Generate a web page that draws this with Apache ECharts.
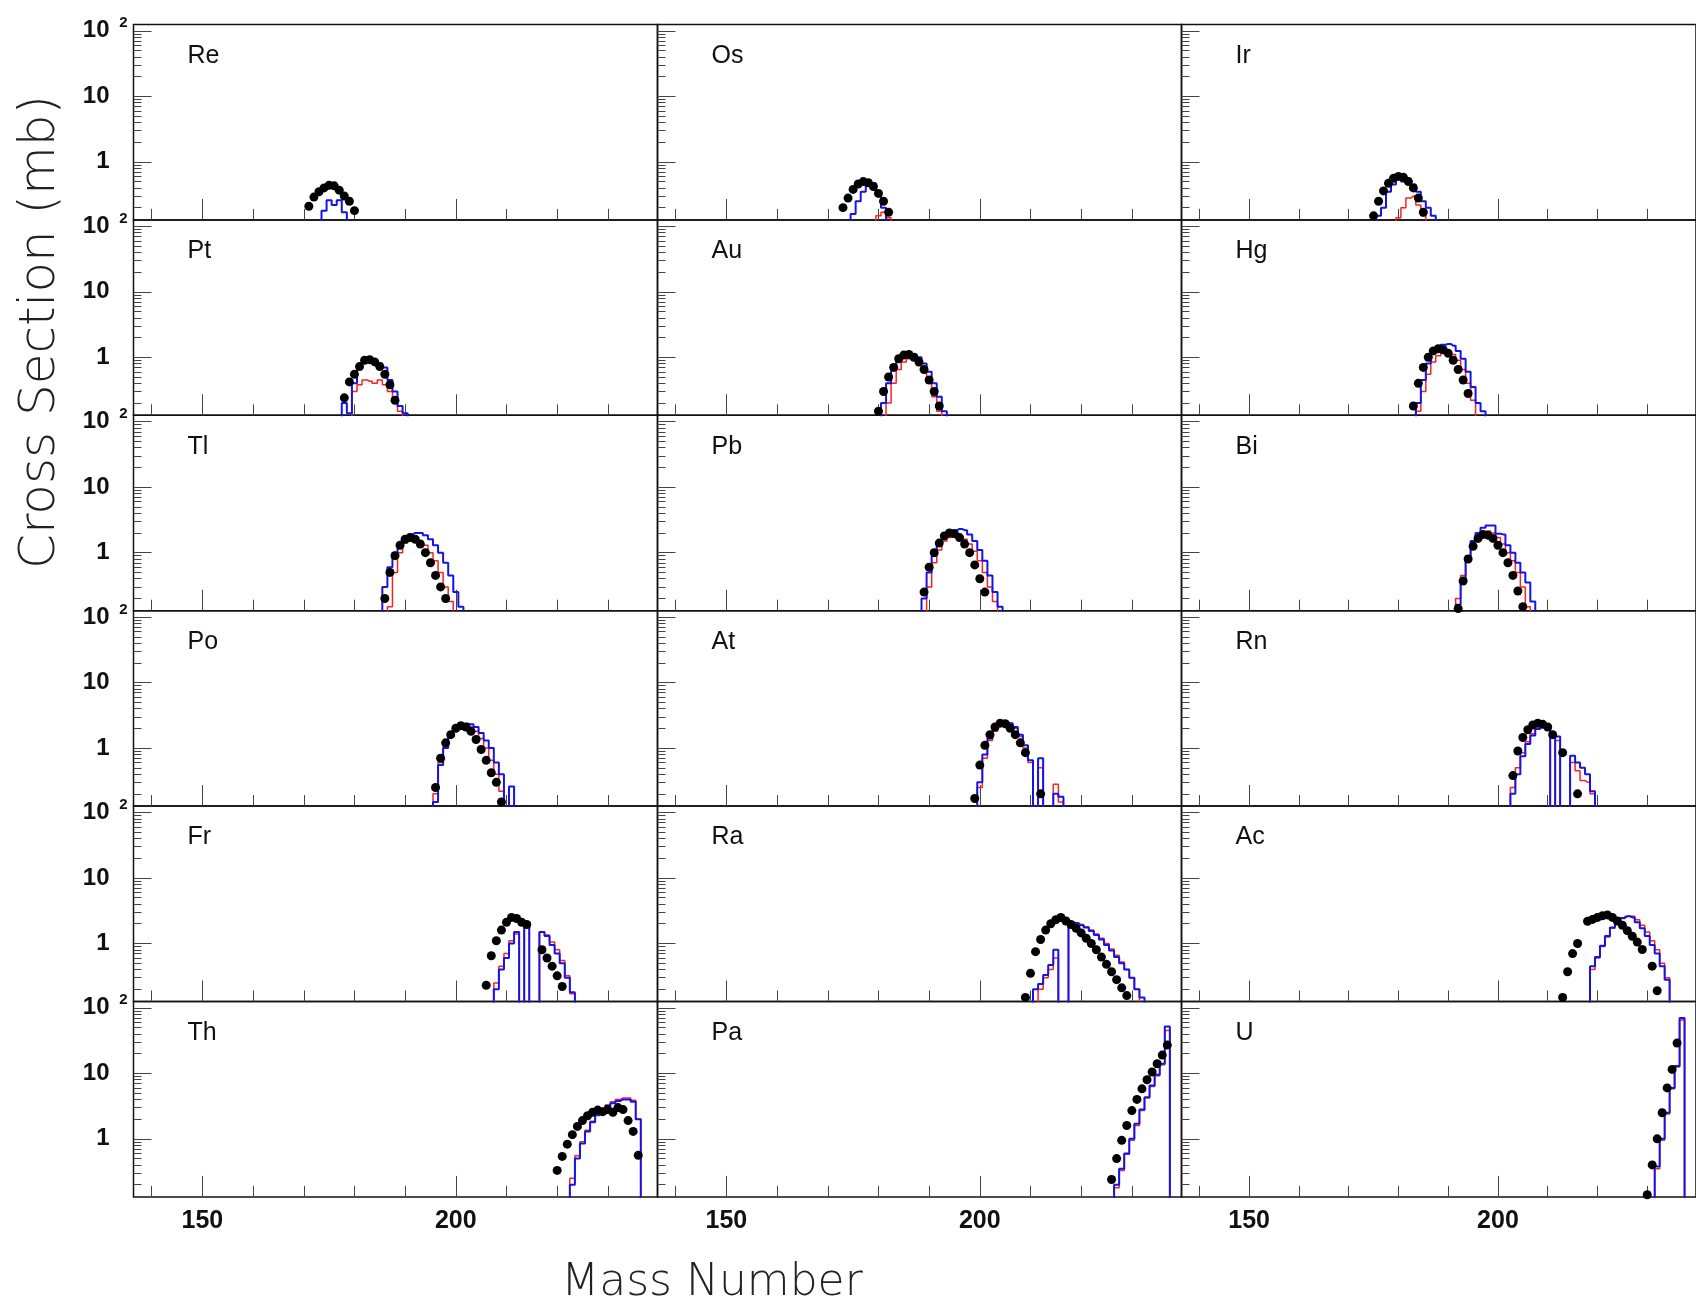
<!DOCTYPE html>
<html>
<head>
<meta charset="utf-8">
<script src="https://cdn.jsdelivr.net/npm/echarts@6/dist/echarts.min.js"></script>
<style>
html,body{margin:0;padding:0;background:#fff;overflow:hidden}
#chart{width:1696px;height:1308px}
</style>
</head>
<body>
<div id="chart"></div>
<script>
// ---------- DATA ----------
const elements = ['Re','Os','Ir','Pt','Au','Hg','Tl','Pb','Bi','Po','At','Rn','Fr','Ra','Ac','Th','Pa','U'];

const xTickLabels = [150, 200];
const xMinorTicks = [140, 160, 170, 180, 190, 210, 220, 230];
const yTickValues = [1, 10, 100];
const yTickLabels = ['1', '10', '10'];
const yMinorTicks = [0.2,0.3,0.4,0.5,0.6,0.7,0.8,0.9, 2,3,4,5,6,7,8,9, 20,30,40,50,60,70,80,90];

// experimental points (black dots): first mass number, then cross sections (mb); null = no point
const expStart = [171,173,175, 178,180,183, 186,189,192, 196,199,203, 206,209,213, 220,226,230];
const expValues = [
  [0.21,0.29,0.35,0.40,0.44,0.43,0.37,0.30,0.25,0.18],
  [0.20,0.28,0.38,0.46,0.50,0.48,0.42,0.33,0.25,0.17],
  [0.15,0.25,0.36,0.47,0.56,0.60,0.58,0.50,0.40,0.28,0.17],
  [0.24,0.42,0.55,0.72,0.90,0.92,0.85,0.72,0.55,0.38,0.22],
  [0.15,0.30,0.50,0.70,0.95,1.08,1.10,1.00,0.85,0.65,0.45,0.30,0.18],
  [0.18,0.40,0.70,1.00,1.25,1.35,1.30,1.15,0.90,0.65,0.45,0.28],
  [0.20,0.50,0.90,1.30,1.60,1.70,1.60,1.35,1.00,0.70,0.45,0.30,0.20],
  [0.25,0.60,1.00,1.40,1.80,2.00,1.95,1.70,1.35,1.00,0.65,0.40,0.25],
  [0.14,0.37,0.80,1.25,1.65,1.90,1.85,1.65,1.30,1.00,0.70,0.45,0.26,0.15],
  [0.25,0.70,1.20,1.60,2.00,2.20,2.10,1.80,1.35,0.95,0.65,0.42,0.30,0.15],
  [0.17,0.55,1.10,1.60,2.10,2.40,2.35,2.00,1.60,1.20,0.85,null,null,0.20],
  [0.38,0.90,1.45,1.90,2.25,2.40,2.30,2.10,1.60,null,0.85,null,null,0.20],
  [0.23,0.65,1.10,1.60,2.10,2.50,2.40,2.10,1.95,null,null,0.80,0.60,0.45,0.32,0.22],
  [0.15,0.35,0.75,1.15,1.60,2.00,2.30,2.50,2.20,1.95,1.70,1.45,1.20,1.00,0.80,0.62,0.48,0.37,0.28,0.21,0.16],
  [0.15,0.37,0.70,1.00,null,2.18,2.33,2.50,2.65,2.73,2.50,2.20,1.90,1.57,1.29,1.05,0.81,null,0.45,0.19],
  [0.33,0.54,0.83,1.16,1.55,1.90,2.25,2.55,2.75,2.60,2.80,2.55,3.00,2.80,1.90,1.30,0.56],
  [0.24,0.50,0.95,1.60,2.70,4.00,5.80,8.00,10.5,14.0,19.0,27.0],
  [0.14,0.40,1.00,2.50,6.00,11.5,29.0]
];

// model 1 (red histogram): first mass number, then cross sections (mb); 0 = empty bin
const redStart = [0,180,180, 180,182,184, 187,190,192, 196,200,203, 208,212,219, 223,227,232];
const redValues = [
  [],
  [0.15,0.17,0.14],
  [0.14,0.20,0.28,0.30,0.22,0.15],
  [0.30,0.38,0.45,0.43,0.40,0.45,0.38,0.30,0.22,0.15],
  [0.20,0.40,0.65,0.85,0.95,0.90,0.75,0.60,0.40,0.25,0.15],
  [0.15,0.30,0.55,0.85,1.05,1.20,1.20,1.10,0.90,0.65,0.40,0.22],
  [0.15,0.50,1.00,1.40,1.60,1.60,1.50,1.30,1.00,0.75,0.50,0.30,0.18],
  [0.30,0.70,1.10,1.50,1.70,1.80,1.75,1.60,1.35,1.05,0.75,0.50,0.30,0.18],
  [0.20,0.45,0.90,1.40,1.80,2.10,2.15,2.00,1.70,1.35,1.00,0.75,0.50,0.30,0.15],
  [0.20,0.60,1.10,1.55,1.90,2.20,2.20,2.10,1.80,1.40,1.00,0.65,0.40,0.22],
  [0.25,0.70,1.30,1.80,2.20,2.40,2.30,2.00,1.50,1.00,0.60,0,0.50,0,0,0.28,0.15],
  [0.25,0.50,0.85,1.25,1.65,2.00,2.25,2.10,0,1.30,0,0,0.60,0.45,0.32,0.30,0.20],
  [0.25,0.45,0.70,1.10,1.40,0,1.90,0,0,1.50,1.35,1.05,0.80,0.55,0.32,0.17],
  [0.20,0.30,0.40,0.60,0,0,2.00,2.05,1.95,1.80,1.60,1.40,1.20,1.00,0.82,0.66,0.52,0.40,0.30,0.20],
  [0.40,0.60,0.90,1.25,1.70,2.10,2.40,2.60,2.60,2.30,1.90,1.50,1.10,0.80,0.50,0.30],
  [0.25,0.55,0.90,1.35,1.85,2.40,2.90,3.30,3.70,4.00,4.20,4.20,3.90,2.00],
  [0.18,0.33,0.58,0.95,1.60,2.70,4.20,6.30,9.20,13.5,45.0],
  [0.35,0.95,2.40,5.80,12.5,65.0]
];

// model 2 (blue histogram)
const blueStart = [174,175,176, 178,181,184, 186,189,192, 196,200,203, 208,211,219, 223,227,232];
const blueValues = [
  [0.18,0.26,0.22,0.26,0.17],
  [0.16,0.25,0.35,0.45,0.47,0.35,0.20],
  [0.15,0.20,0.35,0.45,0.55,0.50,0.55,0.45,0.35,0.25,0.20,0.15],
  [0.20,0.14,0.40,0.70,0.85,0.88,0.88,0.80,0.70,0.45,0.30,0.18,0.14],
  [0.20,0.40,0.75,1.00,1.10,1.15,1.10,1.00,0.80,0.60,0.40,0.25,0.15],
  [0.20,0.45,0.80,1.15,1.40,1.55,1.60,1.50,1.25,0.95,0.60,0.35,0.20,0.15],
  [0.30,0.60,1.00,1.40,1.70,1.90,2.00,2.00,1.85,1.60,1.30,1.00,0.70,0.45,0.25,0.15],
  [0.20,0.50,0.90,1.30,1.70,2.00,2.20,2.30,2.20,1.90,1.50,1.10,0.75,0.45,0.25,0.15],
  [0.16,0.35,0.80,1.50,2.00,2.40,2.60,2.60,1.95,1.90,1.30,1.00,0.70,0.50,0.35,0.18],
  [0.15,0.55,1.00,1.50,1.90,2.25,2.35,2.30,2.10,1.70,1.30,1.00,0.60,0.40,0,0.26],
  [0.30,0.80,1.40,1.90,2.30,2.50,2.40,2.10,1.60,1.10,0.65,0,0.70,0,0,0.20,0.18],
  [0.20,0.40,0.75,1.15,1.55,1.95,2.30,2.20,0,1.50,0,0,0.76,0.60,0.50,0.40,0.22],
  [0.20,0.40,0.60,1.00,1.50,0,2.10,0,0,1.50,1.30,0.95,0.70,0.50,0.30,0.18],
  [0.20,0.24,0.33,0.47,0.80,0,0,2.10,2.05,1.90,1.75,1.55,1.35,1.15,0.95,0.78,0.62,0.50,0.40,0.30,0.20,0.15],
  [0.45,0.62,0.92,1.30,1.75,2.15,2.45,2.60,2.50,2.10,1.70,1.30,0.95,0.70,0.45,0.28],
  [0.20,0.50,0.85,1.30,1.80,2.30,2.80,3.20,3.50,3.80,4.00,4.00,3.70,2.00],
  [0.20,0.35,0.60,1.00,1.70,2.80,4.30,6.50,9.50,14.0,52.0],
  [0.38,1.00,2.50,6.00,13.0,70.0]
];

// ---------- LAYOUT ----------
const colLeft = [133.5, 657.5, 1181.5];
const colW = 524;
const rowTop0 = 24.5;
const rowH = 195.4;
const X_MIN = 136.4, X_MAX = 239.8;
const Y_MIN = 0.13, Y_MAX = 125;
const FLOOR = 1e-3; // empty bins drawn below the axis floor (log axis cannot show 0)

const BOLD_FONT = '"Liberation Sans", Arial, Helvetica, sans-serif';
const tickStyle = {color: '#444', width: 1};

const grids = [], xAxes = [], yAxes = [], series = [], graphics = [];

function histData(start, vals) {
  const d = [[start - 1, FLOOR]];
  vals.forEach((v, k) => d.push([start + k, v > 0 ? v : FLOOR]));
  d.push([start + vals.length, FLOOR]);
  return d;
}

elements.forEach((el, i) => {
  const r = Math.floor(i / 3), c = i % 3;
  const left = colLeft[c], top = rowTop0 + r * rowH;
  const isBottom = r === 5, isLeft = c === 0;
  grids.push({
    left: left, top: top, width: colW, height: rowH,
    show: true, borderColor: '#111', borderWidth: 1.5, backgroundColor: 'rgba(0,0,0,0)',
    containLabel: false
  });
  // x axis: minor ticks + labels
  xAxes.push({
    gridIndex: i, type: 'value', min: X_MIN, max: X_MAX, position: 'bottom',
    axisLine: {show: false}, splitLine: {show: false},
    axisTick: {show: true, inside: true, length: 11, customValues: xMinorTicks, lineStyle: tickStyle},
    axisLabel: {show: isBottom, customValues: xTickLabels, margin: 12, fontSize: 25, fontWeight: 'bold',
      fontFamily: BOLD_FONT, color: '#111'}
  });
  // x axis: major ticks
  xAxes.push({
    gridIndex: i, type: 'value', min: X_MIN, max: X_MAX, position: 'bottom',
    axisLine: {show: false}, splitLine: {show: false},
    axisTick: {show: true, inside: true, length: 21, customValues: xTickLabels, lineStyle: tickStyle},
    axisLabel: {show: false}
  });
  // y axis: major ticks + labels
  yAxes.push({
    gridIndex: i, type: 'log', logBase: 10, min: Y_MIN, max: Y_MAX, position: 'left',
    axisLine: {show: false}, splitLine: {show: false},
    axisTick: {show: true, inside: true, length: 18, customValues: yTickValues, lineStyle: tickStyle},
    axisLabel: {show: isLeft, customValues: yTickValues, margin: 24, fontSize: 24, fontWeight: 'bold',
      fontFamily: BOLD_FONT, color: '#111',
      formatter: function (v) {
        let best = 0, bd = 1e9;
        yTickValues.forEach((t, k) => { const dd = Math.abs(Math.log10(t) - Math.log10(v)); if (dd < bd) { bd = dd; best = k; } });
        return yTickLabels[best];
      }}
  });
  // y axis: minor ticks + exponent of 10^2
  yAxes.push({
    gridIndex: i, type: 'log', logBase: 10, min: Y_MIN, max: Y_MAX, position: 'left',
    axisLine: {show: false}, splitLine: {show: false},
    axisTick: {show: true, inside: true, length: 8, customValues: yMinorTicks, lineStyle: tickStyle},
    axisLabel: {show: isLeft, customValues: [100], margin: 6, fontSize: 15, fontWeight: 'bold',
      fontFamily: BOLD_FONT, color: '#111', verticalAlign: 'bottom', formatter: () => '2'}
  });

  const xi = 2 * i, yi = 2 * i;
  if (redValues[i].length) {
    series.push({
      type: 'line', xAxisIndex: xi, yAxisIndex: yi, step: 'middle', showSymbol: false, symbol: 'none',
      clip: true, lineStyle: {color: '#ff2020', width: 1.5}, data: histData(redStart[i], redValues[i]),
      z: 2
    });
  }
  if (blueValues[i].length) {
    series.push({
      type: 'line', xAxisIndex: xi, yAxisIndex: yi, step: 'middle', showSymbol: false, symbol: 'none',
      clip: true, lineStyle: {color: '#1414e6', width: 2}, data: histData(blueStart[i], blueValues[i]),
      z: 3
    });
  }
  const pts = [];
  expValues[i].forEach((v, k) => { if (v != null) pts.push([expStart[i] + k, v]); });
  series.push({
    type: 'scatter', xAxisIndex: xi, yAxisIndex: yi, symbol: 'circle', symbolSize: 9,
    itemStyle: {color: '#000', opacity: 1}, data: pts, clip: true, z: 4
  });

  graphics.push({
    type: 'text', x: left + 54, y: top + 19,
    style: {text: el, fontSize: 25, fontFamily: BOLD_FONT, fill: '#111',
      textAlign: 'left', textVerticalAlign: 'top'}
  });
});

graphics.push({
  type: 'text', x: 41, y: 332, rotation: Math.PI / 2,
  style: {text: 'Cross Section (mb)', fontSize: 50, fontWeight: 200,
    fontFamily: '"DejaVu Sans", sans-serif', fill: '#222', textAlign: 'center', textVerticalAlign: 'middle'}
});
graphics.push({
  type: 'text', x: 712, y: 1284,
  style: {text: 'Mass Number', fontSize: 44, fontWeight: 200,
    fontFamily: '"DejaVu Sans", sans-serif', fill: '#222', textAlign: 'center', textVerticalAlign: 'middle'}
});

const chart = echarts.init(document.getElementById('chart'), null, {renderer: 'canvas'});
chart.setOption({
  animation: false,
  backgroundColor: '#fff',
  grid: grids,
  xAxis: xAxes,
  yAxis: yAxes,
  series: series,
  graphic: graphics
});
</script>
</body>
</html>
